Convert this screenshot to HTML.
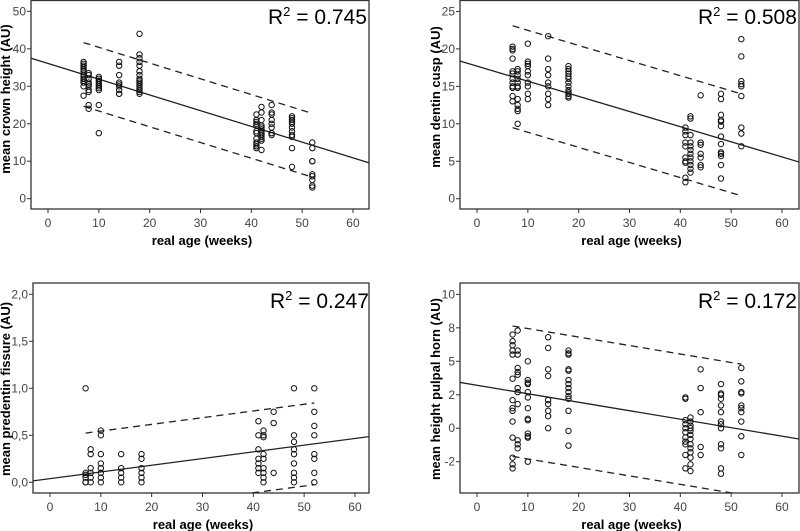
<!DOCTYPE html>
<html><head><meta charset="utf-8"><style>
html,body{margin:0;padding:0;background:#fff;}
svg{display:block;font-family:"Liberation Sans",Arial,sans-serif;}
.tick{font-size:12px;fill:#444;}
.title{font-size:13px;font-weight:bold;fill:#000;}
.r2{font-size:21px;fill:#000;}
</style></head><body>
<svg id="chart" width="800" height="531" viewBox="0 0 800 531" xmlns="http://www.w3.org/2000/svg"></svg>
<script>
const ages = [7,8,10,14,18,41,42,44,48,52];
const xTicks = [0,10,20,30,40,50,60];

const p1Values = [
 [36.5,36,35.5,35,34,33,32.5,32,31.5,31,30,27.5,34.5,32],
 [33.5,33,32,31,30.5,30,29,28.5,25,24],
 [32.5,32,31.5,31,30.5,30,29.5,29,25,17.5],
 [36.5,35.5,33,31,30.5,30,29,28,28],
 [44,38.5,37.5,36.5,35.5,34,33,32,31.5,31,30.5,30,29.5,29,28.5,28],
 [22.5,21,20.5,20,19.5,18,17.5,16,15,14.5,14,13.5],
 [24.5,23,21,19.5,19,18.5,18,17.5,17,16.5,16,15.5,13],
 [25,23,22.5,21,20,19,17.5,17],
 [22,21.5,21,20.5,20,19,18,17,16.5,13.5,8.5],
 [15,13.5,10,10,6.5,6,5,3.5,3]
];
const p1Fit = [36.1,-0.42,8.5];
const p1Ticks = [0,10,20,30,40,50];
const p1TickLabels = ["0","10","20","30","40","50"];

const p2Values = [
 [20.3,20,19.8,18.7,17,16.7,16,15.5,15,14.8,13.7,13],
 [17.3,17,16.5,16,15.5,15,14.8,13.3,12.5,12,11.7,10],
 [20.7,18.3,18,17.7,17,16.5,15.5,15,14,13.3],
 [21.7,18.7,17.3,16.5,15.5,15,14,13.3,12.5],
 [17.7,17.3,17,16.7,16.3,16,15.5,15,14.5,14.2,14,13.7,13.5],
 [9.5,9,8.5,7.5,7,5.5,5,4.8,2.8,2.2],
 [11,10.7,8.5,7.5,7,6.5,6,5.5,5,4.5,4,3.5],
 [13.8,7.5,7.2,6,5.5,4.5,4.2],
 [14,13.3,11.2,10.5,10.3,9.7,8.3,7.3,6.2,6,5.7,4.5,2.7],
 [21.3,19,15.7,15.3,15,13.7,9.5,8.7,7]
];
const p2Fit = [17.7,-0.202,6.8];
const p2Ticks = [0,5,10,15,20,25];
const p2TickLabels = ["0","5","10","15","20","25"];

const p3Values = [
 [1.0,0.1,0.05,0.0,0.08,0.0],
 [0.35,0.3,0.15,0.1,0.05,0.0],
 [0.55,0.5,0.3,0.2,0.15,0.1,0.05,0.0],
 [0.3,0.15,0.1,0.05,0.0],
 [0.3,0.25,0.15,0.1,0.05,0.0],
 [0.65,0.5,0.35,0.25,0.2,0.15,0.1],
 [0.55,0.5,0.48,0.3,0.25,0.15,0.1,0.05,0.0],
 [0.75,0.63,0.1],
 [1.0,0.5,0.43,0.35,0.3,0.2,0.1,0.05,0.0],
 [1.0,0.75,0.6,0.5,0.3,0.25,0.1,0.0]
];
const p3Fit = [0.0385,0.00713,0.435];
const p3Ticks = [0,0.5,1.0,1.5,2.0];
const p3TickLabels = ["0,0","0,5","1,0","1,5","2,0"];

const p4Values = [
 [7.0,6.5,6.2,5.8,5.5,3.7,2.1,1.5,1.3,0.5,-0.7,-2.2,-2.7,-3.0],
 [7.3,5.8,5.5,4.5,4.2,4.0,3.0,2.7,1.8,-0.9,-1.2,-1.5],
 [5.0,3.6,3.4,3.3,2.7,2.3,1.5,0.7,0.6,-0.4,-0.6,-0.7,-2.5],
 [6.8,6.0,4.4,3.9,2.1,1.8,1.3,0.9,0.0],
 [5.8,5.6,5.5,4.4,4.3,3.6,3.3,3.0,2.7,2.4,2.2,1.3,-0.2,-1.3],
 [2.3,2.2,0.6,0.3,0.0,-0.3,-0.7,-1.0,-1.2,-2.0,-3.0],
 [0.8,0.5,0.2,0.0,-0.2,-0.5,-0.8,-1.2,-1.5,-1.8,-2.2,-2.7,-3.2],
 [4.4,3.0,1.2,-1.4,-2.0],
 [3.3,2.6,2.5,2.2,1.7,1.2,0.5,0.3,0.0,-1.2,-1.5,-3.0,-3.4],
 [4.5,3.5,2.7,2.6,1.7,1.5,1.2,0.5,-0.6,-2.0]
];
const p4Fit = [3.21,-0.0634,4.87];
const p4Ticks = [-2.5,0,2.5,5,7.5,10];
const p4TickLabels = ["-2","0","2","5","8","10"];

const NS = "http://www.w3.org/2000/svg";
const svg = document.getElementById('chart');
function mk(tag, attrs, parent){
  const e = document.createElementNS(NS, tag);
  for (const k in attrs) e.setAttribute(k, attrs[k]);
  (parent||svg).appendChild(e);
  return e;
}

const panels = [
 {id:'crown-height', L:31,T:0.5,R:369,B:209, ymin:-2.75,ymax:52.9, vals:p1Values, fit:p1Fit, ticks:p1Ticks, labels:p1TickLabels, ytitle:'mean crown height (AU)', r2:'0.745', r2x:268, r2y:24, ytx:10, yty:99},
 {id:'dentin-cusp', L:460,T:0.5,R:799,B:209, ymin:-1.37,ymax:26.46, vals:p2Values, fit:p2Fit, ticks:p2Ticks, labels:p2TickLabels, ytitle:'mean dentin cusp (AU)', r2:'0.508', r2x:698, r2y:24, ytx:440, yty:97},
 {id:'predentin-fissure', L:33,T:283,R:369,B:493, ymin:-0.114,ymax:2.12, vals:p3Values, fit:p3Fit, ticks:p3Ticks, labels:p3TickLabels, ytitle:'mean predentin fissure (AU)', r2:'0.247', r2x:270, r2y:308, ytx:10, yty:389},
 {id:'pulpal-horn', L:460,T:283,R:799,B:493, ymin:-4.84,ymax:10.85, vals:p4Values, fit:p4Fit, ticks:p4Ticks, labels:p4TickLabels, ytitle:'mean height pulpal horn (AU)', r2:'0.172', r2x:698, r2y:308, ytx:440, yty:389}
];

panels.forEach((p,pi)=>{
  const g = mk('g',{});
  
  
  const x0 = p.L + 17;
  const sx = v => x0 + v*5.083;
  const sy = v => p.B - (v - p.ymin)/(p.ymax - p.ymin)*(p.B - p.T);
  const cp = mk('clipPath',{id:'clip'+pi}, g);
  mk('rect',{x:p.L,y:p.T,width:p.R-p.L,height:p.B-p.T}, cp);
  const fr = mk('rect',{x:p.L,y:p.T,width:p.R-p.L,height:p.B-p.T,fill:'none',stroke:'#333','stroke-width':1.3}, g);
  
  
  xTicks.forEach(t=>{
    const x = sx(t);
    mk('line',{x1:x,x2:x,y1:p.B,y2:p.B+4,stroke:'#333'}, g);
    const tx = mk('text',{x:x,y:p.B+18,'text-anchor':'middle',class:'tick'}, g);
    
    
    tx.textContent = t;
  });
  p.ticks.forEach((t,i)=>{
    const y = sy(t);
    mk('line',{x1:p.L-4,x2:p.L,y1:y,y2:y,stroke:'#333'}, g);
    const ty = mk('text',{x:p.L-5,y:y+4,'text-anchor':'end',class:'tick'}, g);
    
    
    ty.textContent = p.labels[i];
  });
  const xt = mk('text',{x:(p.L+p.R)/2+2,y:p.B+36,'text-anchor':'middle',class:'title'}, g);
  
  
  xt.textContent = 'real age (weeks)';
  const yt = mk('text',{x:0,y:0,'text-anchor':'middle',class:'title',transform:`translate(${p.ytx},${p.yty}) rotate(-90)`}, g);
  
  
  yt.textContent = p.ytitle;
  const r = mk('text',{x:p.r2x,y:p.r2y,class:'r2'}, g);
  
  
  r.innerHTML = 'R<tspan dy="-8" font-size="13">2</tspan><tspan dy="8"> = ' + p.r2 + '</tspan>';
  const [b0,b1,hw] = p.fit;
  const cg = mk('g',{'clip-path':`url(#clip${pi})`}, g);
  const fl = mk('line',{x1:sx(-3.4),y1:sy(b0+b1*-3.4),x2:sx(63.5),y2:sy(b0+b1*63.5),stroke:'#222','stroke-width':1.3}, cg);
  
  
  [hw,-hw].forEach(h=>{
    const dl = mk('line',{x1:sx(7),y1:sy(b0+b1*7+h),x2:sx(52),y2:sy(b0+b1*52+h),stroke:'#222','stroke-width':1.3,'stroke-dasharray':'7,5'}, cg);
    
    
  });
  p.vals.forEach((arr,i)=>{
    arr.forEach(v=>{
      const c = mk('circle',{cx:sx(ages[i]),cy:sy(v),r:2.7,fill:'none',stroke:'#111','stroke-width':1}, g);
      
      
    });
  });
});
</script>
</body></html>
